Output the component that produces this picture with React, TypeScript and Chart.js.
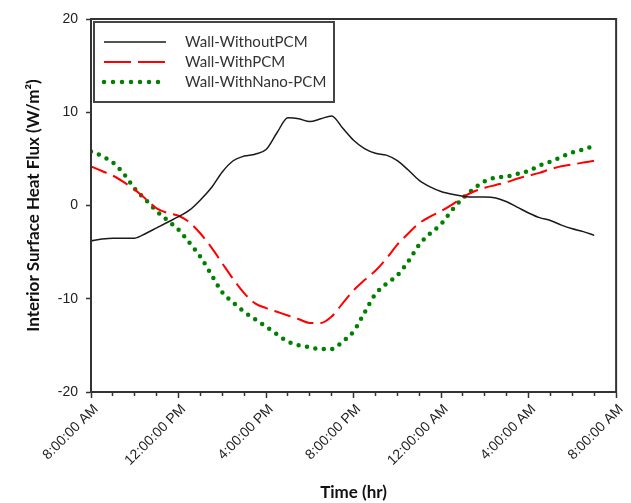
import React, { useEffect, useRef } from 'react';
import { Chart, registerables } from 'chart.js';

Chart.register(...registerables);

// Hours after 8:00 AM, every half hour
const hours = [
  0, 0.5, 1, 1.5, 2, 2.5, 3, 3.5, 4, 4.5, 5, 5.5, 6, 6.5, 7, 7.5, 8, 8.5, 9, 9.5,
  10, 10.5, 11, 11.5, 12, 12.5, 13, 13.5, 14, 14.5, 15, 15.5, 16, 16.5, 17, 17.5,
  18, 18.5, 19, 19.5, 20, 20.5, 21, 21.5, 22, 22.5, 23,
];

const wallWithoutPCM = [
  -3.8, -3.6, -3.5, -3.5, -3.5, -3.0, -2.4, -1.8, -1.2, -0.5, 0.6, 1.9, 3.6, 4.8, 5.3, 5.5, 6.0, 7.8, 9.4, 9.3,
  9.0, 9.3, 9.6, 8.3, 7.0, 6.1, 5.6, 5.4, 4.8, 3.8, 2.7, 2.0, 1.5, 1.2, 1.0, 0.9,
  0.9, 0.8, 0.4, -0.2, -0.8, -1.3, -1.6, -2.1, -2.5, -2.8, -3.2,
];

const wallWithPCM = [
  4.2, 3.7, 3.2, 2.5, 1.7, 0.7, -0.3, -0.8, -1.1, -1.8, -3.0, -4.5, -6.2, -7.9, -9.4, -10.5, -11.0, -11.4, -11.8, -12.2,
  -12.6, -12.6, -11.9, -10.5, -9.1, -8.0, -7.0, -5.7, -4.2, -3.0, -1.9, -1.2, -0.6, 0.1, 0.9, 1.5,
  1.9, 2.2, 2.5, 2.9, 3.2, 3.5, 3.9, 4.2, 4.4, 4.6, 4.8,
];

const wallWithNanoPCM = [
  5.8, 5.3, 4.6, 3.4, 1.8, 0.6, -0.6, -1.6, -2.6, -4.0, -5.5, -7.4, -9.3, -10.4, -11.4, -12.2, -13.0, -13.8, -14.6, -15.0,
  -15.2, -15.4, -15.4, -14.6, -13.5, -11.5, -9.5, -8.4, -7.5, -6.0, -4.2, -3.0, -2.0, -0.5, 0.8, 1.8,
  2.6, 3.0, 3.1, 3.4, 3.7, 4.3, 4.7, 5.2, 5.7, 6.0, 6.4,
];

const seriesLabels = ['Wall-WithoutPCM', 'Wall-WithPCM', 'Wall-WithNano-PCM'];

// Major x tick labels, every 4 hours
const xTickLabels = [
  '8:00:00 AM', '12:00:00 PM', '4:00:00 PM', '8:00:00 PM', '12:00:00 AM', '4:00:00 AM', '8:00:00 AM',
];

const legendDashes = [[], [27, 7], [0, 9]];

const toPoints = (vals: number[]) => vals.map((v, i) => ({ x: hours[i], y: v }));

const frameLegendPlugin = {
  id: 'frameLegend',
  afterDraw(chart: any) {
    const { ctx, chartArea } = chart;
    ctx.save();
    // plot frame
    ctx.strokeStyle = '#333';
    ctx.lineWidth = 2;
    ctx.strokeRect(chartArea.left, chartArea.top, chartArea.right - chartArea.left, chartArea.bottom - chartArea.top);
    // legend box
    const x0 = chartArea.left + 3;
    const y0 = chartArea.top + 3;
    const w = 240;
    const h = 80;
    ctx.fillStyle = '#fff';
    ctx.fillRect(x0, y0, w, h);
    ctx.strokeStyle = '#444';
    ctx.lineWidth = 2;
    ctx.strokeRect(x0, y0, w, h);
    chart.data.datasets.forEach((ds: any, i: number) => {
      const y = y0 + 20 + i * 20;
      ctx.beginPath();
      ctx.setLineDash(legendDashes[i]);
      ctx.lineCap = ds.borderCapStyle || 'butt';
      ctx.lineWidth = ds.borderWidth;
      ctx.strokeStyle = ds.borderColor;
      ctx.moveTo(x0 + 10, y);
      ctx.lineTo(x0 + 72, y);
      ctx.stroke();
      ctx.setLineDash([]);
      ctx.fillStyle = '#333';
      ctx.font = '15px Lato';
      ctx.textBaseline = 'middle';
      ctx.textAlign = 'left';
      ctx.fillText(ds.label, x0 + 91, y);
    });
    ctx.restore();
  },
};

export default function App() {
  const canvasRef = useRef<HTMLCanvasElement | null>(null);

  useEffect(() => {
    document.body.style.margin = '0';
    const canvas = canvasRef.current;
    if (!canvas) return;
    const chart = new Chart(canvas, {
      type: 'line',
      data: {
        datasets: [
          {
            label: seriesLabels[0],
            data: toPoints(wallWithoutPCM),
            borderColor: '#1a1a1a',
            borderWidth: 1.5,
            pointRadius: 0,
            fill: false,
            cubicInterpolationMode: 'monotone',
          },
          {
            label: seriesLabels[1],
            data: toPoints(wallWithPCM),
            borderColor: '#ff0000',
            borderWidth: 2,
            borderDash: [17, 7],
            pointRadius: 0,
            fill: false,
            cubicInterpolationMode: 'monotone',
          },
          {
            label: seriesLabels[2],
            data: toPoints(wallWithNanoPCM),
            borderColor: '#008000',
            borderWidth: 4.5,
            borderDash: [0, 8.5],
            borderCapStyle: 'round',
            pointRadius: 0,
            fill: false,
            cubicInterpolationMode: 'monotone',
          },
        ],
      },
      options: {
        animation: false,
        responsive: false,
        layout: { padding: { left: 0, right: 9, top: 19, bottom: 0 } },
        plugins: {
          legend: { display: false },
          tooltip: { enabled: false },
        },
        scales: {
          x: {
            type: 'linear',
            min: 0,
            max: 24,
            afterFit: (s: any) => {
              s.height = 111;
            },
            ticks: {
              stepSize: 1,
              autoSkip: false,
              minRotation: 45,
              maxRotation: 45,
              padding: 3,
              labelOffset: 5,
              color: '#222',
              font: { family: 'Liberation Sans', size: 14 },
              callback: (v: any) => (Number(v) % 4 === 0 ? xTickLabels[Number(v) / 4] : ''),
            },
            grid: {
              drawOnChartArea: false,
              drawTicks: true,
              tickLength: 6,
              tickColor: '#333',
              tickWidth: 1.5,
              tickBorderDash: (ctx: any) => (ctx.tick && ctx.tick.value % 4 !== 0 ? [3, 20] : []),
            },
            border: { display: true, color: '#333', width: 2 },
            title: {
              display: true,
              text: 'Time (hr)',
              color: '#111',
              font: { family: 'Lato', size: 17, weight: 'bold' },
              padding: { top: 0, bottom: 0 },
            },
          },
          y: {
            min: -20,
            max: 20,
            afterFit: (s: any) => {
              s.width = 91;
            },
            ticks: {
              stepSize: 10,
              padding: 8,
              color: '#222',
              font: { family: 'Liberation Sans', size: 14 },
            },
            grid: {
              drawOnChartArea: false,
              drawTicks: true,
              tickLength: 5,
              tickColor: '#333',
              tickWidth: 1.5,
            },
            border: { display: true, color: '#333', width: 2 },
            title: {
              display: true,
              text: 'Interior Surface Heat Flux (W/m²)',
              color: '#111',
              font: { family: 'Lato', size: 17, weight: 'bold' },
              padding: { top: 23, bottom: 0 },
            },
          },
        },
      },
      plugins: [frameLegendPlugin],
    } as any);
    return () => chart.destroy();
  }, []);

  return (
    <div style={{ width: 631, height: 503 }}>
      <canvas ref={canvasRef} width={631} height={503} />
    </div>
  );
}
